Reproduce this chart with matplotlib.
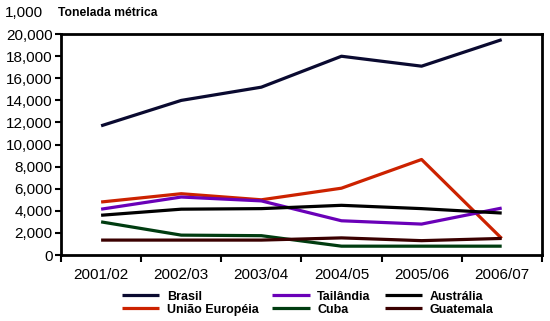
import matplotlib.pyplot as plt
from matplotlib.ticker import FuncFormatter, FixedLocator

plt.rcParams['font.family'] = ['Liberation Sans', 'DejaVu Sans']

anos = ["2001/02", "2002/03", "2003/04", "2004/05", "2005/06", "2006/07"]
brasil = [11700, 14000, 15200, 18000, 17100, 19500]
tailandia = [4150, 5250, 4900, 3100, 2800, 4250]
australia = [3600, 4150, 4200, 4500, 4200, 3800]
uniao_europeia = [4800, 5550, 5000, 6050, 8650, 1500]
cuba = [3000, 1800, 1750, 800, 800, 800]
guatemala = [1350, 1350, 1350, 1550, 1300, 1500]

series = [
    ("Brasil", brasil, "#0a0a30"),
    ("União Européia", uniao_europeia, "#cc2200"),
    ("Tailândia", tailandia, "#6a00b8"),
    ("Cuba", cuba, "#003c10"),
    ("Austrália", australia, "#000000"),
    ("Guatemala", guatemala, "#3a0000"),
]

fig = plt.figure(figsize=(5.5, 3.21), dpi=100)
ax = fig.add_axes([0.111, 0.2056, 0.874, 0.688])
x = list(range(len(anos)))

for nome, vals, cor in series:
    ax.plot(x, vals, color=cor, lw=2.3, label=nome, solid_capstyle='butt')

ax.set_xlim(-0.5, len(anos) - 0.5)
ax.set_ylim(0, 20000)
ax.set_yticks(range(0, 20001, 2000))
ax.yaxis.set_major_formatter(FuncFormatter(lambda v, p: f"{int(v):,}"))
ax.xaxis.set_major_locator(FixedLocator([i - 0.5 for i in range(len(anos) + 1)]))
ax.xaxis.set_major_formatter(FuncFormatter(lambda v, p: ""))
ax.set_xticks(x, minor=True)
ax.set_xticklabels(anos, minor=True)
ax.tick_params(axis='x', which='minor', length=0, labelsize=11, pad=9)
ax.tick_params(axis='x', which='major', length=5, width=1.5, direction='out')
ax.tick_params(axis='y', length=4, width=1.5, labelsize=11, pad=2)
for s in ax.spines.values():
    s.set_linewidth(2)

fig.text(0.008, 0.946, "1,000", fontsize=11)
fig.text(0.105, 0.950, "Tonelada métrica", fontsize=8.7, fontweight='bold')

leg = ax.legend(ncol=3, loc='upper center', bbox_to_anchor=(0.513, -0.11),
                frameon=False, prop={'weight': 'bold', 'size': 9},
                handlelength=3.0, columnspacing=1.1, labelspacing=0.1,
                handletextpad=0.6)

fig.savefig("out.png", dpi=100)
